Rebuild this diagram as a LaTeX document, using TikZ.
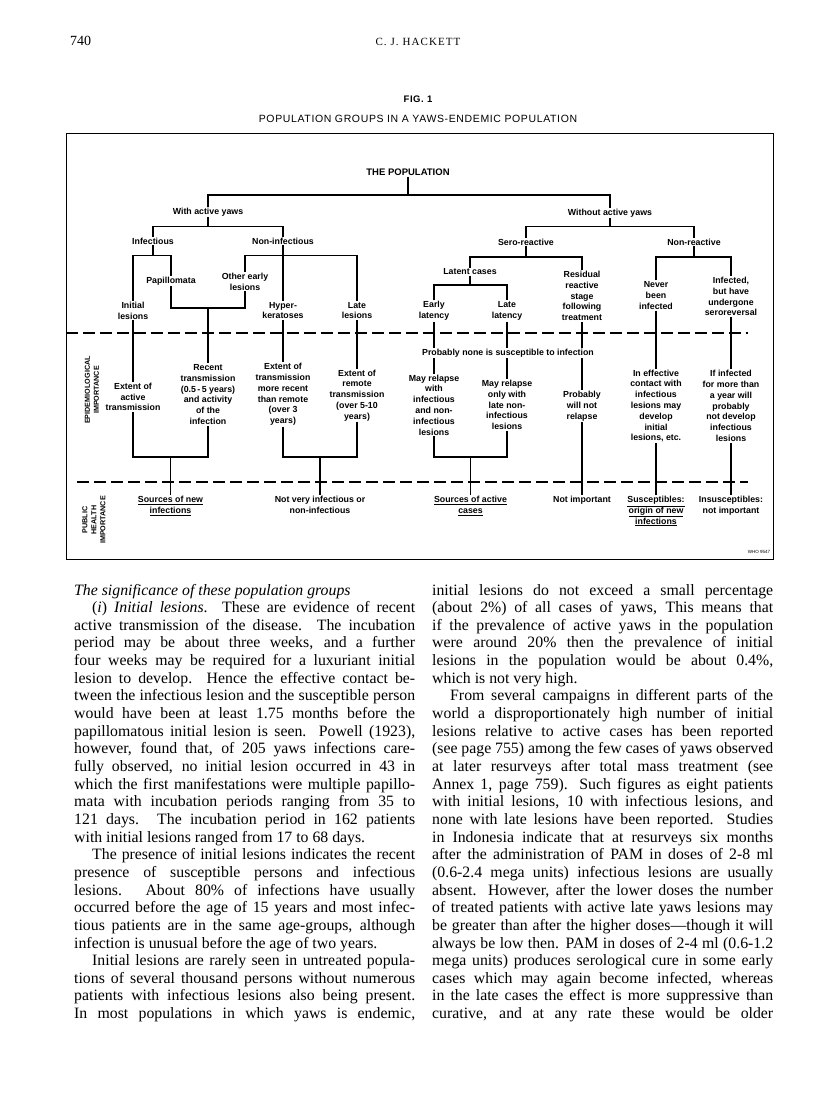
\documentclass[tikz,border=0pt]{standalone}
\usepackage{fontspec}
\setmainfont{Liberation Serif}
\setsansfont{Liberation Sans}
\newfontfamily\titlefont[LetterSpace=6]{Liberation Sans}
\newfontfamily\authfont[LetterSpace=10]{Liberation Serif}
\newcommand\lblfont{\fontsize{8.8pt}{10.8pt}\selectfont\sffamily\bfseries}
\newcommand\sidefont{\fontsize{7.2pt}{9pt}\selectfont\sffamily\bfseries}
\newcommand\bodyfont{\fontsize{15.8pt}{17.65pt}\selectfont}
\newlength\pind
\setlength\pind{18pt}
\newcommand\jl[1]{\makebox[\linewidth][s]{#1}\par}
\newcommand\jli[1]{\hspace*{\pind}\makebox[\dimexpr\linewidth-\pind\relax][s]{#1}\par}
\newcommand\lastl[1]{\mbox{#1}\par}
\tikzset{
  lbl/.style={font=\lblfont, align=center, inner sep=1pt},
  sidelbl/.style={font=\sidefont, align=center, inner sep=0pt, rotate=90},
  tl/.style={line width=1.6pt},
  divider/.style={line width=1.2pt, dash pattern=on 12pt off 5pt},
  frame/.style={line width=1pt},
}
\begin{document}
\begin{tikzpicture}[x=1pt,y=-1pt]
\fill[white] (0,0) rectangle (816,1098);
\useasboundingbox (0,0) rectangle (816,1098);

% header
\node[anchor=base west, inner sep=0, font=\fontsize{14pt}{14pt}\selectfont] (pg) at (70,45) {740};
\node[anchor=base, inner sep=0, font=\fontsize{11pt}{11pt}\selectfont\authfont] (auth) at (418,45) {C. J. HACKETT};
\node[anchor=base, inner sep=0, font=\fontsize{9.5pt}{10pt}\selectfont\titlefont\bfseries] (fig) at (418,102) {FIG. 1};
\node[anchor=base, inner sep=0, font=\fontsize{10.5pt}{11pt}\selectfont\titlefont] (figt) at (418,122) {POPULATION GROUPS IN A YAWS-ENDEMIC POPULATION};

% frame and dividers
\draw[frame] (66,133) rectangle (773,559);
\draw[divider] (66,333) -- (748,333);
\draw[divider] (77,482) -- (748,482);
\coordinate (J1) at (0,195);
\coordinate (J2) at (0,226.5);
\coordinate (J3) at (0,255.5);
\coordinate (J3b) at (0,257);
\coordinate (J4) at (0,285);
\coordinate (J5) at (0,308);
\coordinate (J6) at (0,457);

% side labels
\node[sidelbl] (epi) at (92,390) {EPIDEMIOLOGICAL\\IMPORTANCE};
\node[sidelbl] (phi) at (94,520) {PUBLIC\\HEALTH\\IMPORTANCE};

% tree
\node[lbl, font=\fontsize{9.5pt}{11pt}\selectfont\sffamily\bfseries] (pop) at (408,172) {THE POPULATION};
\node[lbl] (wa) at (208,212) {With active yaws};
\node[lbl] (woa) at (610,213) {Without active yaws};
\node[lbl] (inf) at (153,241) {Infectious};
\node[lbl] (ninf) at (283,241) {Non-infectious};
\node[lbl] (sero) at (526,242) {Sero-reactive};
\node[lbl] (nonr) at (694,242) {Non-reactive};
\node[lbl] (papi) at (171,281) {Papillomata};
\node[lbl] (oel) at (245,281.5) {Other early\\lesions};
\node[lbl] (latent) at (470,272) {Latent cases};
\node[lbl] (resid) at (582,296) {Residual\\reactive\\stage\\following\\treatment};
\node[lbl] (never) at (656,295.5) {Never\\been\\infected};
\node[lbl] (infd) at (731,296.5) {Infected,\\but have\\undergone\\seroreversal};
\node[lbl] (il) at (133,310.5) {Initial\\lesions};
\node[lbl] (hyp) at (283,310.5) {Hyper-\\keratoses};
\node[lbl] (late) at (357,310.5) {Late\\lesions};
\node[lbl] (el) at (434,311) {Early\\latency};
\node[lbl] (ll) at (507,311) {Late\\latency};

\draw[tl] (pop.south) -- (pop.south |- J1);
\draw[tl] (wa.north) |- (woa.north |- J1) -- (woa.north);
\draw[tl] (wa.south) -- (wa.south |- J2);
\draw[tl] (inf.north) |- (ninf.north |- J2) -- (ninf.north);
\draw[tl] (woa.south) -- (woa.south |- J2);
\draw[tl] (sero.north) |- (nonr.north |- J2) -- (nonr.north);
\draw[tl] (inf.south) -- (inf.south |- J3);
\draw[tl] (il.north) |- (papi.north |- J3) -- (papi.north);
\draw[tl] (oel.north) |- (late.north |- J3) -- (late.north);
\draw[tl] (ninf.south) -- (hyp.north);
\draw[tl] (sero.south) -- (sero.south |- J3b);
\draw[tl] (latent.north) |- (resid.north |- J3b) -- (resid.north);
\draw[tl] (nonr.south) -- (nonr.south |- J3b);
\draw[tl] (never.north) |- (infd.north |- J3b) -- (infd.north);
\draw[tl] (latent.south) -- (latent.south |- J4);
\draw[tl] (el.north) |- (ll.north |- J4) -- (ll.north);
\draw[tl] (papi.south) |- (oel.south |- J5) -- (oel.south);

% epidemiological importance
\node[lbl] (prob) at (508,353) {Probably none is susceptible to infection};
\node[lbl] (e1) at (133,397) {Extent of\\active\\transmission};
\node[lbl] (e2) at (208,394.5) {Recent\\transmission\\(0.5\,-\,5 years)\\and activity\\of the\\infection};
\node[lbl] (e3) at (283,394.5) {Extent of\\transmission\\more recent\\than remote\\(over 3\\years)};
\node[lbl] (e4) at (357,395.5) {Extent of\\remote\\transmission\\(over 5-10\\years)};
\node[lbl] (e5) at (434,405) {May relapse\\with\\infectious\\and non-\\infectious\\lesions};
\node[lbl] (e6) at (507,405) {May relapse\\only with\\late non-\\infectious\\lesions};
\node[lbl] (e7) at (582,406) {Probably\\will not\\relapse};
\node[lbl] (e8) at (656,406) {In effective\\contact with\\infectious\\lesions may\\develop\\initial\\lesions, etc.};
\node[lbl] (e9) at (731,406) {If infected\\for more than\\a year will\\probably\\not develop\\infectious\\lesions};

\draw[tl] (e2.north |- J5) -- (e2.north);
\draw[tl] (il.south) -- (e1.north);
\draw[tl] (hyp.south) -- (e3.north);
\draw[tl] (late.south) -- (e4.north);
\draw[tl] (el.south) -- (el.south |- prob.north);
\draw[tl] (ll.south) -- (ll.south |- prob.north);
\draw[tl] (resid.south) -- (resid.south |- prob.north);
\draw[tl] (prob.south -| e5.north) -- (e5.north);
\draw[tl] (prob.south -| e6.north) -- (e6.north);
\draw[tl] (prob.south -| e7.north) -- (e7.north);
\draw[tl] (never.south) -- (e8.north);
\draw[tl] (infd.south) -- (e9.north);

% public health importance
\node[lbl, anchor=north] (p1) at (170.5,495) {\underline{Sources of new}\\\underline{infections}};
\node[lbl, anchor=north] (p2) at (320,495) {Not very infectious or\\non-infectious};
\node[lbl, anchor=north] (p3) at (470.5,495) {\underline{Sources of active}\\\underline{cases}};
\node[lbl, anchor=north] (p4) at (582,495) {Not important};
\node[lbl, anchor=north] (p5) at (656,495) {\underline{Susceptibles:}\\\underline{origin of new}\\\underline{infections}};
\node[lbl, anchor=north] (p6) at (731,495) {Insusceptibles:\\not important};

\draw[tl] (e1.south) |- (e2.south |- J6) -- (e2.south);
\draw[tl] (p1.north |- J6) -- (p1.north);
\draw[tl] (e3.south) |- (e4.south |- J6) -- (e4.south);
\draw[tl] (p2.north |- J6) -- (p2.north);
\draw[tl] (e5.south) |- (e6.south |- J6) -- (e6.south);
\draw[tl] (p3.north |- J6) -- (p3.north);
\draw[tl] (e7.south) -- (p4.north);
\draw[tl] (e8.south) -- (p5.north);
\draw[tl] (e9.south) -- (p6.north);

\node[inner sep=0, font=\fontsize{4.5pt}{5pt}\selectfont\sffamily] (who) at (759,552) {WHO 9547};

% body text
\node[anchor=base west, inner sep=0] (colL) at (74,595) {\parbox[t]{341pt}{\bodyfont\parindent=0pt
\lastl{\itshape The significance of these population groups}
\jli{(\textit{i}) \textit{Initial lesions}. These are evidence of recent}
\jl{active transmission of the disease. The incubation}
\jl{period may be about three weeks, and a further}
\jl{four weeks may be required for a luxuriant initial}
\jl{lesion to develop. Hence the effective contact be-}
\jl{tween the infectious lesion and the susceptible person}
\jl{would have been at least 1.75 months before the}
\jl{papillomatous initial lesion is seen. Powell (1923),}
\jl{however, found that, of 205 yaws infections care-}
\jl{fully observed, no initial lesion occurred in 43 in}
\jl{which the first manifestations were multiple papillo-}
\jl{mata with incubation periods ranging from 35 to}
\jl{121 days. The incubation period in 162 patients}
\lastl{with initial lesions ranged from 17 to 68 days.}
\jli{The presence of initial lesions indicates the recent}
\jl{presence of susceptible persons and infectious}
\jl{lesions. About 80\% of infections have usually}
\jl{occurred before the age of 15 years and most infec-}
\jl{tious patients are in the same age-groups, although}
\lastl{infection is unusual before the age of two years.}
\jli{Initial lesions are rarely seen in untreated popula-}
\jl{tions of several thousand persons without numerous}
\jl{patients with infectious lesions also being present.}
\jl{In most populations in which yaws is endemic,}
}};

\node[anchor=base west, inner sep=0] (colR) at (432,595) {\parbox[t]{341pt}{\bodyfont\parindent=0pt
\jl{initial lesions do not exceed a small percentage}
\jl{(about 2\%) of all cases of yaws, This means that}
\jl{if the prevalence of active yaws in the population}
\jl{were around 20\% then the prevalence of initial}
\jl{lesions in the population would be about 0.4\%,}
\lastl{which is not very high.}
\jli{From several campaigns in different parts of the}
\jl{world a disproportionately high number of initial}
\jl{lesions relative to active cases has been reported}
\jl{(see page 755) among the few cases of yaws observed}
\jl{at later resurveys after total mass treatment (see}
\jl{Annex 1, page 759). Such figures as eight patients}
\jl{with initial lesions, 10 with infectious lesions, and}
\jl{none with late lesions have been reported. Studies}
\jl{in Indonesia indicate that at resurveys six months}
\jl{after the administration of PAM in doses of 2-8 ml}
\jl{(0.6-2.4 mega units) infectious lesions are usually}
\jl{absent. However, after the lower doses the number}
\jl{of treated patients with active late yaws lesions may}
\jl{be greater than after the higher doses—though it will}
\jl{always be low then. PAM in doses of 2-4 ml (0.6-1.2}
\jl{mega units) produces serological cure in some early}
\jl{cases which may again become infected, whereas}
\jl{in the late cases the effect is more suppressive than}
\jl{curative, and at any rate these would be older}
}};
\end{tikzpicture}
\end{document}
